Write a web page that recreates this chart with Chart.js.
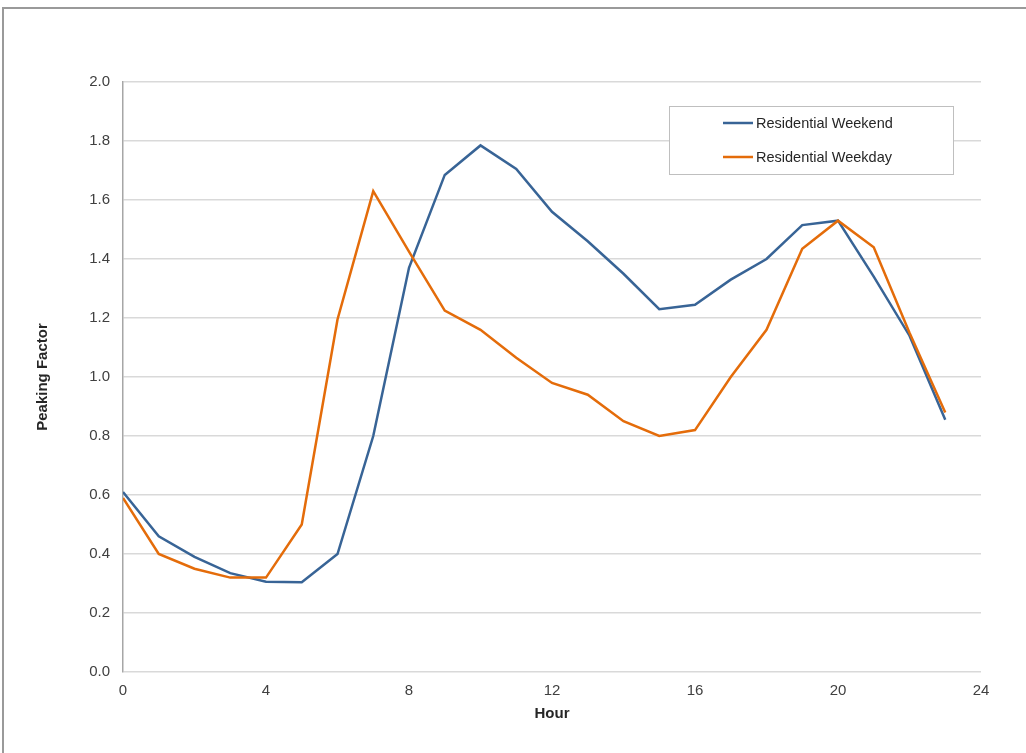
<!DOCTYPE html>
<html>
<head>
<meta charset="utf-8">
<script src="https://cdn.jsdelivr.net/npm/chart.js@4/dist/chart.umd.min.js"></script>
<style>
    body { margin: 0; background: #fff; overflow: hidden; }
    #wrap { position: relative; width: 1026px; height: 753px; }
    #frame {
        position: absolute; left: 2px; top: 7px; width: 1100px; height: 800px;
        border-top: 2px solid #9a9a9a; border-left: 2px solid #9a9a9a;
        pointer-events: none;
    }
</style>
</head>
<body>
<div id="wrap">
    <canvas id="chart" width="1026" height="753"></canvas>
    <div id="frame"></div>
</div>
<script>
// datos
const hours = [0,1,2,3,4,5,6,7,8,9,10,11,12,13,14,15,16,17,18,19,20,21,22,23];
const weekend = [0.61,0.46,0.39,0.335,0.306,0.304,0.40,0.80,1.37,1.685,1.785,1.705,1.56,1.46,1.35,1.23,1.245,1.33,1.40,1.515,1.53,1.34,1.14,0.855];
const weekday = [0.59,0.40,0.35,0.32,0.32,0.50,1.195,1.63,1.425,1.225,1.16,1.065,0.98,0.94,0.85,0.80,0.82,1.00,1.16,1.435,1.53,1.44,1.15,0.88];
const seriesNames = ['Residential Weekend', 'Residential Weekday'];
const xTitle = 'Hour';
const yTitle = 'Peaking Factor';

const font = "'Liberation Sans', Arial, sans-serif";

// leyenda con caja, dibujada a mano
const boxLegend = {
    id: 'boxLegend',
    afterDraw(chart) {
        const ctx = chart.ctx;
        const area = chart.chartArea;
        const w = 284, h = 68;
        const x = area.right - 28 - w;
        const y = area.top + 24;
        ctx.save();
        ctx.fillStyle = '#fff';
        ctx.fillRect(x, y, w, h);
        ctx.strokeStyle = '#bfbfbf';
        ctx.lineWidth = 1;
        ctx.strokeRect(x + 0.5, y + 0.5, w, h);
        ctx.font = '14.5px ' + font;
        ctx.textBaseline = 'middle';
        chart.data.datasets.forEach((ds, i) => {
            const ly = y + 17 + i * 34;
            ctx.strokeStyle = ds.borderColor;
            ctx.lineWidth = 2.5;
            ctx.beginPath();
            ctx.moveTo(x + 54, ly);
            ctx.lineTo(x + 84, ly);
            ctx.stroke();
            ctx.fillStyle = '#262626';
            ctx.fillText(ds.label, x + 87, ly + 1);
        });
        ctx.restore();
    }
};

new Chart(document.getElementById('chart'), {
    type: 'line',
    data: {
        datasets: [
            {
                label: seriesNames[0],
                data: hours.map((h, i) => ({ x: h, y: weekend[i] })),
                borderColor: '#386496',
                borderWidth: 2.5,
                pointRadius: 0,
                tension: 0,
                order: 1
            },
            {
                label: seriesNames[1],
                data: hours.map((h, i) => ({ x: h, y: weekday[i] })),
                borderColor: '#e46c0a',
                borderWidth: 2.5,
                pointRadius: 0,
                tension: 0,
                order: 0
            }
        ]
    },
    options: {
        responsive: false,
        animation: false,
        layout: { padding: { top: 82, right: 45, left: 34, bottom: 30 } },
        plugins: { legend: { display: false }, tooltip: { enabled: false } },
        scales: {
            x: {
                type: 'linear',
                min: 0, max: 24,
                afterFit: (s) => { s.height = 51; },
                ticks: { stepSize: 4, padding: 10, color: '#404040', font: { family: font, size: 15 } },
                grid: { drawOnChartArea: false, drawTicks: false },
                border: { display: false },
                title: { display: true, text: xTitle, color: '#262626', padding: 0, font: { family: font, size: 15, weight: 'bold' } }
            },
            y: {
                min: 0, max: 2,
                afterFit: (s) => { s.width = 89; },
                ticks: {
                    stepSize: 0.2, padding: 13, color: '#404040',
                    font: { family: font, size: 15 },
                    callback: (v) => v.toFixed(1)
                },
                grid: { color: '#d9d9d9', lineWidth: 1.5, drawTicks: false },
                border: { color: '#a6a6a6', width: 1.5 },
                title: { display: true, text: yTitle, color: '#262626', padding: 0, font: { family: font, size: 15, weight: 'bold' } }
            }
        }
    },
    plugins: [boxLegend]
});
</script>
</body>
</html>
